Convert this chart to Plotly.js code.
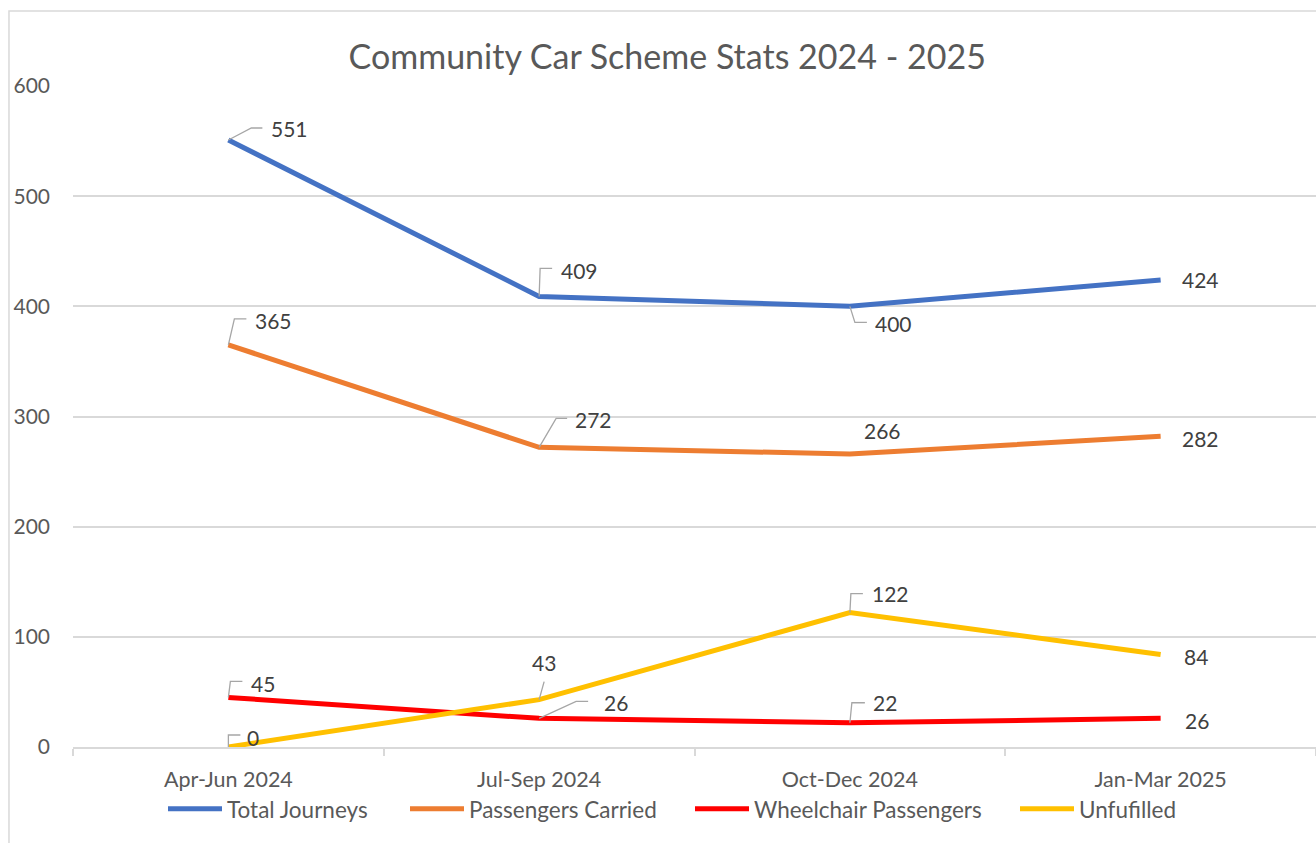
<!DOCTYPE html>
<html>
<head>
<meta charset="utf-8">
<script src="https://cdn.plot.ly/plotly-3.0.1.min.js"></script>
<style>
html,body{margin:0;padding:0;background:#fff;}
#chart{width:1316px;height:843px;}
</style>
</head>
<body>
<div id="chart"></div>
<script>
// ---- data ----
const categories = ["Apr-Jun 2024", "Jul-Sep 2024", "Oct-Dec 2024", "Jan-Mar 2025"];
const totalJourneys = [551, 409, 400, 424];
const passengersCarried = [365, 272, 266, 282];
const wheelchairPassengers = [45, 26, 22, 26];
const unfulfilled = [0, 43, 122, 84];
const seriesNames = ["Total Journeys", "Passengers Carried", "Wheelchair Passengers", "Unfufilled"];

// ---- styles ----
const colors = ["#4472C4", "#ED7D31", "#FF0000", "#FFC000"];
const FONT = "Lato, 'Open Sans', sans-serif";
const legendX = [163, 405, 690, 1015]; // screen px where each legend entry begins

// label offsets (screen px: dx right, dy down) and leader elbows (screen px from point)
const labelLayout = [
  [ {dx:61,dy:-11,lead:[[23,-12],[34,-12]]}, {dx:40,dy:-26,lead:[[1,-28],[13,-28]]}, {dx:44,dy:17,lead:[[5,16],[17,16]]}, {dx:40,dy:0} ],
  [ {dx:45,dy:-24,lead:[[6,-26],[18,-26]]}, {dx:54,dy:-28,lead:[[17,-29],[28,-29]]}, {dx:33,dy:-23}, {dx:40,dy:2} ],
  [ {dx:35,dy:-14,lead:[[2,-16],[14,-16]]}, {dx:77,dy:-16,lead:[[37,-17],[49,-17]]}, {dx:35,dy:-20,lead:[[2,-20],[15,-20]]}, {dx:36,dy:2} ],
  [ {dx:25,dy:-10,lead:[[0,-12],[12,-12]]}, {dx:5,dy:-37,lead:[[5,-18]]}, {dx:41,dy:-19,lead:[[1,-19],[13,-19]]}, {dx:35,dy:2} ]
];

const allSeries = [totalJourneys, passengersCarried, wheelchairPassengers, unfulfilled];
const legendIds = ["legend", "legend2", "legend3", "legend4"];

const traces = allSeries.map((vals, i) => ({
  type: "scatter",
  mode: "lines",
  x: categories,
  y: vals,
  name: seriesNames[i],
  legend: legendIds[i],
  line: {color: colors[i], width: 5},
  hoverinfo: "x+y+name"
}));

const annotations = [];
const shapes = [];
allSeries.forEach((vals, i) => {
  vals.forEach((v, j) => {
    const L = labelLayout[i][j];
    annotations.push({
      x: categories[j], y: v, xref: "x", yref: "y",
      text: String(v), showarrow: false,
      xshift: L.dx, yshift: -L.dy,
      font: {family: FONT, size: 21, color: "#404040"}
    });
    if (L.lead) {
      let path = "M0,0";
      L.lead.forEach(p => { path += " L" + p[0] + "," + (-p[1]); });
      shapes.push({
        type: "path", xref: "x", yref: "y",
        xsizemode: "pixel", ysizemode: "pixel",
        xanchor: categories[j], yanchor: v,
        path: path,
        line: {color: "#A6A6A6", width: 1.3},
        layer: "above"
      });
    }
  });
});

// chart area border
shapes.push({
  type: "rect", xref: "paper", yref: "paper",
  x0: -0.0515, x1: 1.05, y0: -0.3, y1: 1.1135,
  line: {color: "#D9D9D9", width: 1.5},
  fillcolor: "rgba(0,0,0,0)",
  layer: "below"
});

const layout = {
  width: 1316, height: 843,
  margin: {l: 73, r: 0, t: 86, b: 96},
  paper_bgcolor: "#ffffff",
  plot_bgcolor: "#ffffff",
  title: {
    text: "Community Car Scheme Stats 2024 - 2025",
    font: {family: FONT, size: 34, color: "#595959"},
    xref: "container", yref: "container",
    x: 0.507, y: 0.932, xanchor: "center", yanchor: "middle"
  },
  xaxis: {
    type: "category",
    showgrid: false,
    showline: true, linecolor: "#D9D9D9", linewidth: 1.5,
    ticks: "outside", tickson: "boundaries", ticklen: 7, tickcolor: "#D9D9D9", tickwidth: 1.5,
    ticklabelstandoff: 12,
    tickfont: {family: FONT, size: 21.5, color: "#595959"},
    range: [-0.5, 3.5],
    zeroline: false
  },
  yaxis: {
    range: [0, 600],
    tickvals: [0, 100, 200, 300, 400, 500, 600],
    showgrid: true, gridcolor: "#D9D9D9", gridwidth: 1.5,
    zeroline: false, showline: false,
    ticks: "", ticklabelstandoff: 22,
    tickfont: {family: FONT, size: 21, color: "#595959"}
  },
  showlegend: true,
  annotations: annotations,
  shapes: shapes
};

legendIds.forEach((id, i) => {
  layout[id] = {
    orientation: "h",
    x: (legendX[i] - 73) / 1243, xanchor: "left",
    y: -0.094, yanchor: "middle",
    itemwidth: 54,
    font: {family: FONT, size: 22.5, color: "#595959"},
    bgcolor: "rgba(0,0,0,0)"
  };
});

Plotly.newPlot("chart", traces, layout, {displayModeBar: false, responsive: false});
</script>
</body>
</html>
